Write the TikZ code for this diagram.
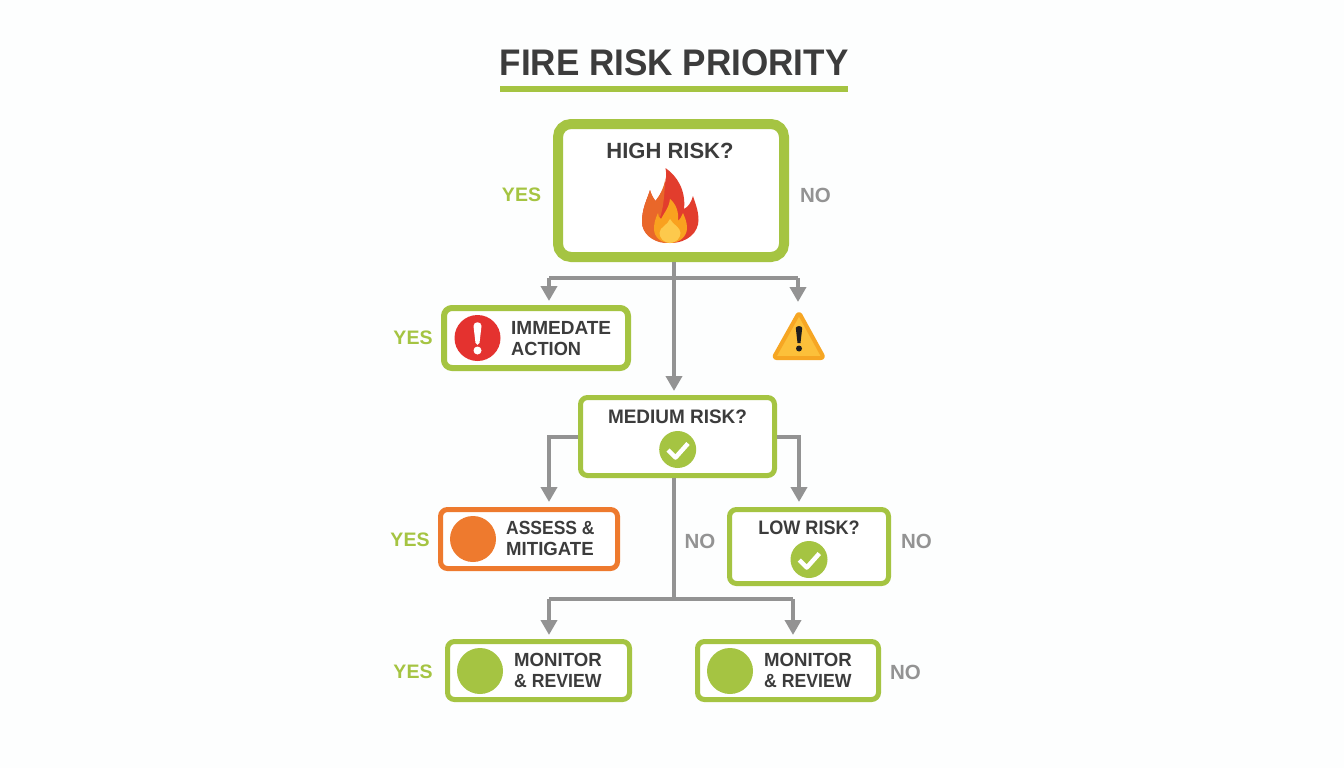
\documentclass[tikz,border=0pt]{standalone}
\usepackage{fontspec}
\setmainfont{Liberation Sans}
\usetikzlibrary{arrows.meta}
\definecolor{grn}{HTML}{A5C442}
\definecolor{gry}{HTML}{939393}
\definecolor{ink}{HTML}{3C3C3C}
\definecolor{org}{HTML}{EE7A2E}
\definecolor{redc}{HTML}{E4322F}
\definecolor{bgc}{HTML}{FDFEFE}
\definecolor{flameR}{HTML}{E23D2D}
\definecolor{flameO}{HTML}{E9672A}
\definecolor{flameM}{HTML}{F9A11F}
\definecolor{flameI}{HTML}{FDC94C}
\definecolor{warnF}{HTML}{FCC03A}
\definecolor{warnB}{HTML}{F6A623}
\newcommand{\fs}[1]{\fontsize{#1}{#1}\selectfont\bfseries}
\newcommand{\sq}[2]{\scalebox{#1}[1]{#2}}
\tikzset{
 x=1pt,y=-1pt,
 box/.style={draw=grn,fill=white,rounded corners=#1,inner sep=0pt},
 lab/.style={inner sep=0pt,anchor=center},
 yes/.style={lab,text=grn,font=\fs{19.5}},
 no/.style={lab,text=gry,font=\fs{20.5}},
 body/.style={inner sep=0pt,text=ink,font=\fs{19},align=left,anchor=west},
 head/.style={inner sep=0pt,text=ink,font=\fs{19.5},anchor=center},
 conn/.style={draw=gry,line width=4pt},
 arr/.style={conn,-{Triangle[width=16pt,length=15pt]}},
 dot/.style={circle,inner sep=0pt,minimum size=#1},
 chkline/.style={draw=white,line width=4.5pt,line join=round},
}
\begin{document}
\begin{tikzpicture}
\useasboundingbox (0,0) rectangle (1344,768);
\fill[bgc] (0,0) rectangle (1344,768);
\node[inner sep=0pt,text=ink,font=\fs{37}] (title) at (674,63) {\sq{0.948}{FIRE RISK PRIORITY}};
\fill[grn] (500,85.5) rectangle (848,91.5);

\node[box=13pt,line width=10pt,minimum width=226pt,minimum height=133pt] (high) at (671,190.5) {};
\node[box=8pt,line width=6pt,minimum width=184pt,minimum height=60pt] (imm) at (536,338) {};
\node[box=7pt,line width=5pt,minimum width=194pt,minimum height=78pt] (med) at (677.5,436.5) {};
\node[box=7pt,draw=org,line width=5pt,minimum width=177pt,minimum height=59pt] (ass) at (529,539) {};
\node[box=7pt,line width=5pt,minimum width=159pt,minimum height=74pt] (low) at (809,546.5) {};
\node[box=7pt,line width=5pt,minimum width=182pt,minimum height=58pt] (mon1) at (538.5,670.5) {};
\node[box=7pt,line width=5pt,minimum width=181pt,minimum height=58pt] (mon2) at (788,670.5) {};

% connectors
\coordinate (hs) at (674,262);
\coordinate (bl) at (549,278);
\coordinate (br) at (798,278);
\coordinate (ma) at (674,391);
\coordinate (ia) at (549,301);
\coordinate (wa) at (798,302);
\coordinate (ml) at (549,437);
\coordinate (mr) at (799,437);
\coordinate (ms) at (674,478);
\coordinate (mb) at (674,599);
\coordinate (cl) at (549,599);
\coordinate (cr) at (793,599);
\draw[conn] (bl) -- (br);
\draw[arr] (hs) -- (ma);
\draw[arr] (bl) -- (ia);
\draw[arr] (br) -- (wa);
\draw[arr,shorten >=5pt] (med.west |- ml) -- (ml) -- (ass.north -| ml);
\draw[arr,shorten >=5pt] (med.east |- mr) -- (mr) -- (low.north -| mr);
\draw[conn] (ms) -- (mb);
\draw[conn] (cl) -- (cr);
\draw[arr,shorten >=4pt] (cl) -- (mon1.north -| cl);
\draw[arr,shorten >=4pt] (cr) -- (mon2.north -| cr);

% flame
\fill[flameR] (670,243) .. controls (688,243) and (698.5,232) .. (698.5,220)
  .. controls (698.5,210) and (695,203) .. (693,196)
  .. controls (691,203) and (688,207) .. (684,209)
  .. controls (686,190) and (677,176) .. (665.5,168)
  .. controls (668,180) and (663,192) .. (655.5,201)
  .. controls (653,198) and (651,194) .. (650,190)
  .. controls (647,200) and (642,208) .. (642,222)
  .. controls (642,234) and (654,243) .. (670,243) -- cycle;
\fill[flameO] (665,243) .. controls (652,242) and (642,233) .. (642,222)
  .. controls (642,208) and (647,200) .. (650,190)
  .. controls (651,194) and (653,198) .. (655.5,201)
  .. controls (660,195) and (664,188) .. (665.5,178)
  .. controls (664,195) and (664,212) .. (657,224) -- (665,243) -- cycle;
\fill[flameM] (670,243) .. controls (680,243) and (687,236) .. (687,228)
  .. controls (687,222) and (685,218) .. (683,213)
  .. controls (681,217) and (680,220) .. (678,221)
  .. controls (679,212) and (676,204) .. (670,199)
  .. controls (669,208) and (664,213) .. (661,219)
  .. controls (659,218) and (658,216) .. (658,213)
  .. controls (655,219) and (654,224) .. (654,229)
  .. controls (654,237) and (661,243) .. (670,243) -- cycle;
\fill[flameI] (670,243) .. controls (676,243) and (680.5,238) .. (680.5,233)
  .. controls (680.5,227) and (673,225) .. (670,219)
  .. controls (668,225) and (659.5,227) .. (659.5,233)
  .. controls (659.5,238) and (664,243) .. (670,243) -- cycle;

% warning triangle
\draw[draw=warnB,fill=warnF,line width=4pt,line join=round,rounded corners=3pt] (799,312.5) -- (824,358) -- (773.5,358) -- cycle;
\fill[ink!50!black] (795.8,328) .. controls (796,325.5) and (802,325.5) .. (802.2,328) -- (800.5,343) -- (797.5,343) -- cycle;
\fill[ink!50!black] (799,348.5) circle (3);

% icons
\node[dot=46pt,fill=redc] (ic1) at (477.5,338) {};
\fill[white] (473.5,326) .. controls (473.5,321) and (481.5,321) .. (481.5,326) -- (479.5,343) .. controls (479,345.5) and (476,345.5) .. (475.5,343) -- cycle;
\fill[white] (477.5,350.5) circle (4);
\node[dot=46pt,fill=org] (ic2) at (473,539) {};
\node[dot=46pt,fill=grn] (ic3) at (480,671) {};
\node[dot=46pt,fill=grn] (ic4) at (730,671) {};
\node[dot=37pt,fill=grn] (ok1) at (677.7,449.5) {};
\node[dot=37pt,fill=grn] (ok2) at (809,559.5) {};
\draw[chkline] (668,450) -- (675.5,457.5) -- (688,443.5);
\draw[chkline] (799.3,560) -- (806.8,567.5) -- (819.3,553.5);

% text
\node[head,font=\fs{22}] (t1) at (670,151) {HIGH RISK?};
\node[head] (t2) at (677.5,417) {\sq{0.972}{MEDIUM RISK?}};
\node[head] (t3) at (809,528) {\sq{0.927}{LOW RISK?}};
\node[body] (t4) at (511,338.5) {IMMEDATE\\[2pt]\sq{0.96}{ACTION}};
\node[body] (t5) at (506,538.5) {\sq{0.92}{ASSESS \&}\\[2pt]\sq{0.98}{MITIGATE}};
\node[body] (t6) at (514,670.5) {\sq{0.98}{MONITOR}\\[2pt]\sq{0.93}{\& REVIEW}};
\node[body] (t7) at (764,670.5) {\sq{0.98}{MONITOR}\\[2pt]\sq{0.93}{\& REVIEW}};

\node[yes] (y1) at (521.5,195) {YES};
\node[no] (n1) at (815.5,195) {NO};
\node[yes] (y2) at (413,338) {YES};
\node[yes] (y3) at (410,540) {YES};
\node[yes] (y4) at (413,672) {YES};
\node[no] (n2) at (700,541) {NO};
\node[no] (n3) at (916.5,541) {NO};
\node[no] (n4) at (905.5,672) {NO};
\end{tikzpicture}
\end{document}
